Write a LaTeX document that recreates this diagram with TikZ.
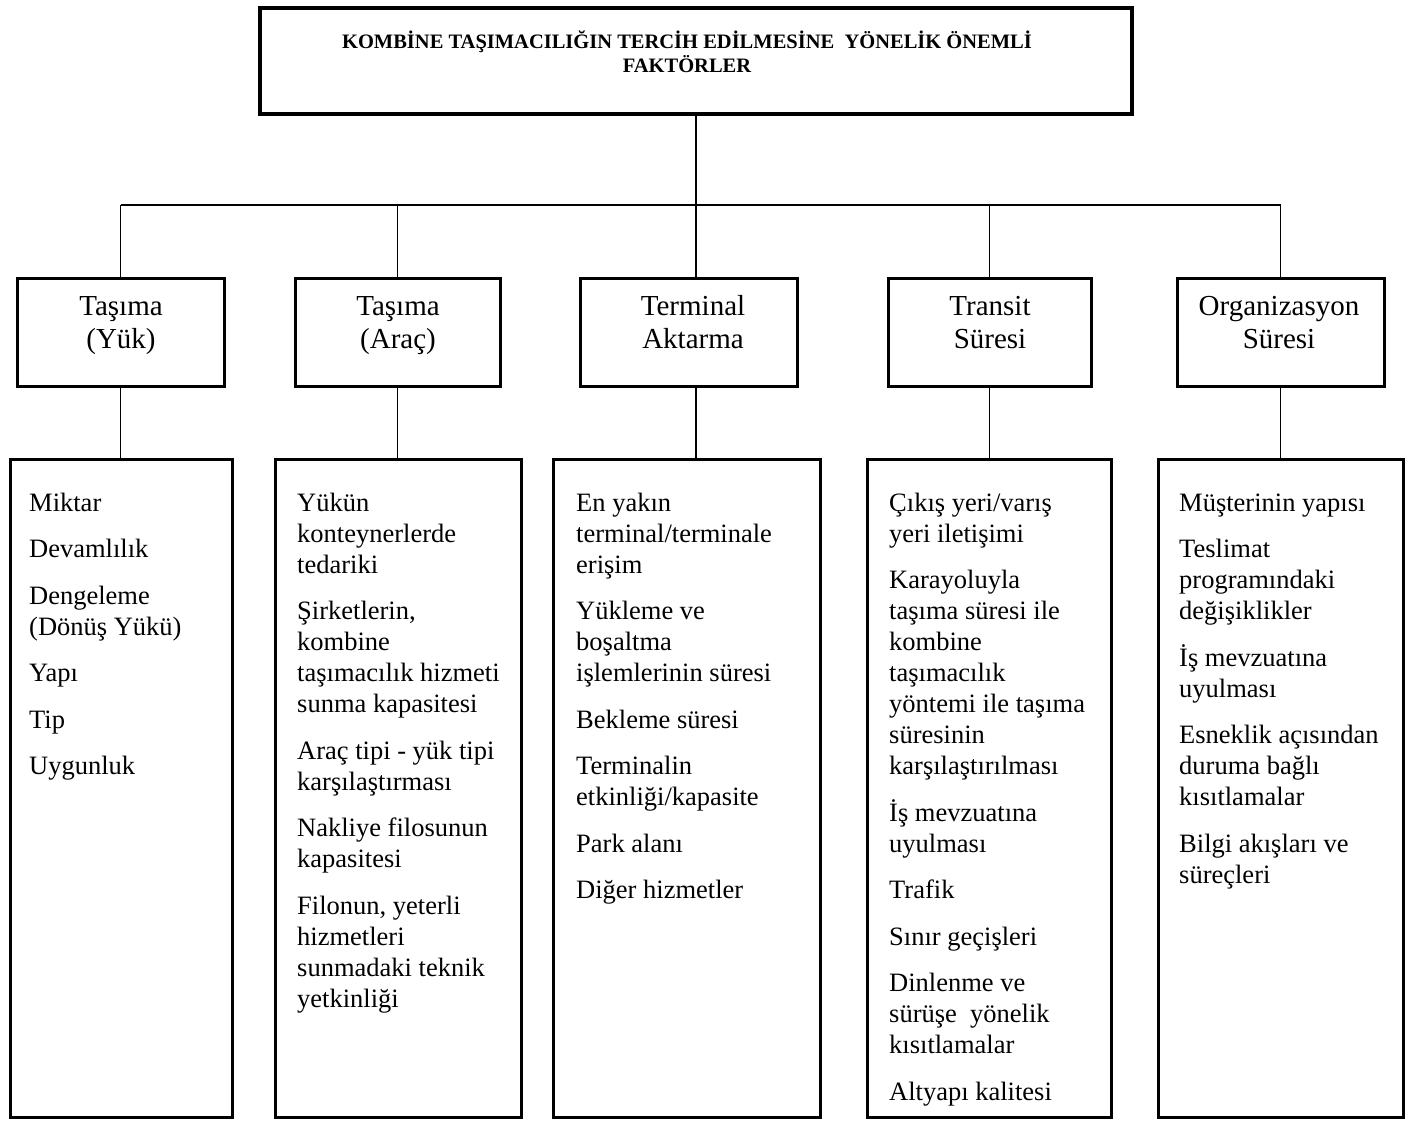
\documentclass[tikz,border=0pt]{standalone}
\usepackage{fontspec}
\setmainfont{Liberation Serif}
\usepackage{tikz}

\newcommand{\nextitem}{\\[15.5pt]}
\newcommand{\firstline}[1]{\rule{0pt}{#1}}

\tikzset{
  headbox/.style={draw, line width=3.5pt, anchor=north west, inner sep=0pt, outer sep=0pt},
  midbox/.style={draw, line width=3pt, anchor=north west, inner sep=0pt, outer sep=0pt, minimum height=108pt},
  listbox/.style={draw, line width=3pt, anchor=north west, inner sep=0pt, outer sep=0pt, minimum height=658pt},
  wire/.style={line width=1.8pt},
  headtext/.style={anchor=north, inner sep=0pt, align=center, font=\fontsize{20.5}{24}\selectfont\bfseries},
  midtext/.style={anchor=north, inner sep=0pt, align=center, font=\fontsize{29}{33}\selectfont},
  listtext/.style={anchor=north west, inner sep=0pt, align=left, font=\fontsize{26.5}{31}\selectfont}
}

\begin{document}
\begin{tikzpicture}[x=1pt, y=-1pt]
  \useasboundingbox (0,0) rectangle (1419,1122);

  % main box
  \node[headbox, minimum width=872pt, minimum height=106pt] (top) at (260,8) {};
  \node[headtext] (toptext) at (687,30) {\firstline{18pt}KOMBİNE TAŞIMACILIĞIN TERCİH EDİLMESİNE~ YÖNELİK ÖNEMLİ\\FAKTÖRLER};

  % second row
  \node[midbox, minimum width=207pt] (m1) at (17,278) {};
  \node[midbox, minimum width=205pt] (m2) at (295,278) {};
  \node[midbox, minimum width=217pt] (m3) at (580,278) {};
  \node[midbox, minimum width=203pt] (m4) at (888,278) {};
  \node[midbox, minimum width=207pt] (m5) at (1177,278) {};

  \node[midtext] (m1text) at (121,288) {\firstline{27pt}Taşıma\\(Yük)};
  \node[midtext] (m2text) at (398,288) {\firstline{27pt}Taşıma\\(Araç)};
  \node[midtext] (m3text) at (693,288) {\firstline{27pt}Terminal\\Aktarma};
  \node[midtext] (m4text) at (990,288) {\firstline{27pt}Transit\\Süresi};
  \node[midtext] (m5text) at (1279,288) {\firstline{27pt}Organizasyon\\Süresi};

  % lists
  \node[listbox, minimum width=222pt] (l1) at (10,459) {};
  \node[listbox, minimum width=246pt] (l2) at (275,459) {};
  \node[listbox, minimum width=267pt] (l3) at (553,459) {};
  \node[listbox, minimum width=244pt] (l4) at (867,459) {};
  \node[listbox, minimum width=245pt] (l5) at (1158,459) {};

  \node[listtext] (l1text) at (29,487) {\firstline{24pt}Miktar\nextitem
    Devamlılık\nextitem
    Dengeleme\\(Dönüş Yükü)\nextitem
    Yapı\nextitem
    Tip\nextitem
    Uygunluk};
  \node[listtext] (l2text) at (297,487) {\firstline{24pt}Yükün\\konteynerlerde\\tedariki\nextitem
    Şirketlerin,\\kombine\\taşımacılık hizmeti\\sunma kapasitesi\nextitem
    Araç tipi - yük tipi\\karşılaştırması\nextitem
    Nakliye filosunun\\kapasitesi\nextitem
    Filonun, yeterli\\hizmetleri\\sunmadaki teknik\\yetkinliği};
  \node[listtext] (l3text) at (576,487) {\firstline{24pt}En yakın\\terminal/terminale\\erişim\nextitem
    Yükleme ve\\boşaltma\\işlemlerinin süresi\nextitem
    Bekleme süresi\nextitem
    Terminalin\\etkinliği/kapasite\nextitem
    Park alanı\nextitem
    Diğer hizmetler};
  \node[listtext] (l4text) at (889,487) {\firstline{24pt}Çıkış yeri/varış\\yeri iletişimi\nextitem
    Karayoluyla\\taşıma süresi ile\\kombine\\taşımacılık\\yöntemi ile taşıma\\süresinin\\karşılaştırılması\nextitem
    İş mevzuatına\\uyulması\nextitem
    Trafik\nextitem
    Sınır geçişleri\nextitem
    Dinlenme ve\\sürüşe~ yönelik\\kısıtlamalar\nextitem
    Altyapı kalitesi};
  \node[listtext] (l5text) at (1179,487) {\firstline{24pt}Müşterinin yapısı\nextitem
    Teslimat\\programındaki\\değişiklikler\nextitem
    İş mevzuatına\\uyulması\nextitem
    Esneklik açısından\\duruma bağlı\\kısıtlamalar\nextitem
    Bilgi akışları ve\\süreçleri};

  % connectors
  \coordinate (level) at (0,205);
  \coordinate (bus) at (top.south |- level);
  \draw[wire] (top.south) -- (bus);
  \draw[wire] (m1.north |- bus) -- (m5.north |- bus);
  \foreach \k in {1,2,4,5} {
    \draw[wire] (m\k.north) -- (m\k.north |- bus);
    \draw[wire] (m\k.south) -- (m\k.south |- l\k.north);
  }
  \draw[wire] (m3.north -| bus) -- (bus);
  \draw[wire] (m3.south -| bus) -- (l3.north -| bus);
\end{tikzpicture}
\end{document}
